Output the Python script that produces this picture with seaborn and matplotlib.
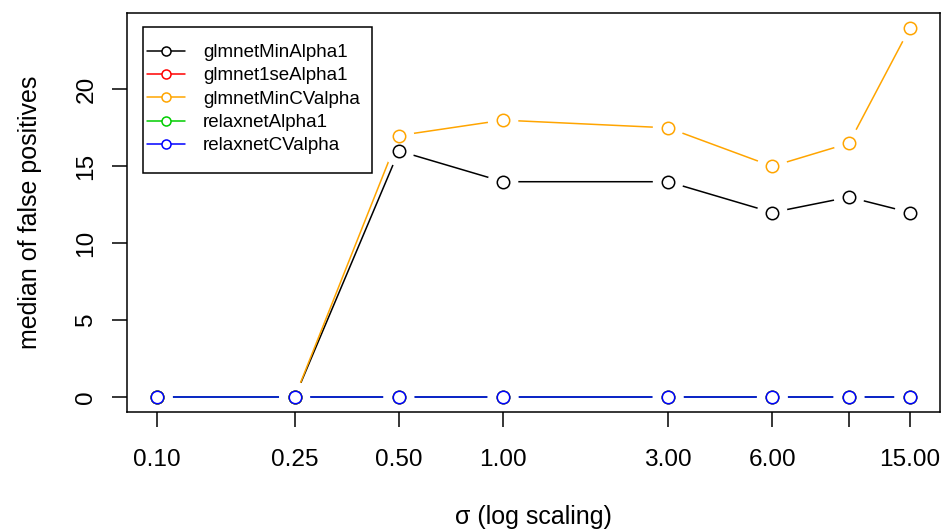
import matplotlib
matplotlib.use("Agg")
import matplotlib.pyplot as plt
import seaborn as sns
import numpy as np
import pandas as pd
from matplotlib.lines import Line2D
from matplotlib.patches import Rectangle

sigma = [0.10, 0.25, 0.50, 1.00, 3.00, 6.00, 10.00, 15.00]
tick_labels = ["0.10", "0.25", "0.50", "1.00", "3.00", "6.00", "", "15.00"]
glmnetMinAlpha1 = [0, 0, 16, 14, 14, 12, 13, 12]
glmnet1seAlpha1 = [0, 0, 0, 0, 0, 0, 0, 0]
glmnetMinCValpha = [0, 0, 17, 18, 17.5, 15, 16.5, 24]
relaxnetAlpha1 = [0, 0, 0, 0, 0, 0, 0, 0]
relaxnetCValpha = [0, 0, 0, 0, 0, 0, 0, 0]

series = ["glmnetMinAlpha1", "glmnet1seAlpha1", "glmnetMinCValpha",
          "relaxnetAlpha1", "relaxnetCValpha"]
values = [glmnetMinAlpha1, glmnet1seAlpha1, glmnetMinCValpha,
          relaxnetAlpha1, relaxnetCValpha]
colors = ["black", "#ff0000", "#ffa500", "#00cd00", "#0000ff"]

df = pd.DataFrame({
    "sigma": np.tile(sigma, len(series)),
    "value": np.concatenate(values),
    "series": np.repeat(series, len(sigma)),
})

sns.set_style("white")
plt.rcParams["font.family"] = ["Liberation Sans", "DejaVu Sans"]
plt.rcParams["text.color"] = "black"
plt.rcParams["axes.labelcolor"] = "black"
plt.rcParams["xtick.color"] = "black"
plt.rcParams["ytick.color"] = "black"

W, H = 947, 529
fig = plt.figure(figsize=(W / 100, H / 100), dpi=100)
L, R, T, B = 127, 940, 13, 412
ax = fig.add_axes([L / W, 1 - B / H, (R - L) / W, (B - T) / H])

lw = 1.1
for name, col in zip(series, colors):
    sub = df[df["series"] == name]
    sns.lineplot(data=sub, x="sigma", y="value", ax=ax, color=col, lw=lw,
                 legend=False, estimator=None, sort=False, zorder=2)
for name, col in zip(series, colors):
    sub = df[df["series"] == name]
    # white halo -> gap between line and point (R type = "b")
    sns.scatterplot(data=sub, x="sigma", y="value", ax=ax, color="white",
                    edgecolor="none", s=485, legend=False, zorder=3)
for name, col in zip(series, colors):
    sub = df[df["series"] == name]
    sns.scatterplot(data=sub, x="sigma", y="value", ax=ax, color="white",
                    edgecolor=col, linewidth=lw, s=80, legend=False, zorder=4)

ax.set_xscale("log")
ax.set_xlim(10 ** -1.0870, 10 ** 1.2631)
ax.set_ylim(-0.96, 24.96)
ax.set_xticks(sigma)
ax.set_xticklabels(tick_labels)
ax.xaxis.set_minor_locator(matplotlib.ticker.NullLocator())
ax.set_yticks([0, 5, 10, 15, 20])
ax.set_yticklabels(["0", "5", "10", "15", "20"], rotation=90, va="center")
ax.tick_params(axis="both", direction="out", length=10.8, width=lw,
               labelsize=17.6, color="black", labelcolor="black",
               bottom=True, left=True)
ax.tick_params(axis="x", pad=15.5)
ax.tick_params(axis="y", pad=10.5)
for s in ax.spines.values():
    s.set_color("black")
    s.set_linewidth(lw)
    s.set_zorder(10)

ax.set_xlabel("σ (log scaling)", fontsize=18, va="baseline", color="black")
ax.xaxis.set_label_coords(0.5, (B - 524) / (B - T))
ax.set_ylabel("median of false positives", fontsize=18, va="baseline",
              color="black")
ax.yaxis.set_label_coords((37 - L) / (R - L), 0.5)

# legend frame
ax.add_patch(Rectangle(((143 - L) / (R - L), (B - 173) / (B - T)),
                       229 / (R - L), 146 / (B - T), transform=ax.transAxes,
                       facecolor="white", edgecolor="black", lw=lw, zorder=5,
                       clip_on=False))
handles = [Line2D([0], [0], color=c, lw=lw, marker="o", markersize=6.5,
                  markerfacecolor="white", markeredgecolor=c, markeredgewidth=lw)
           for c in colors]
leg = ax.legend(handles, series, loc="upper left",
                bbox_to_anchor=((147 - L) / (R - L), (B - 44) / (B - T)),
                fontsize=13.5, frameon=False, borderpad=0, borderaxespad=0,
                handlelength=2.03, labelspacing=0.33, handletextpad=0.96)
for t in leg.get_texts():
    t.set_color("black")
leg.set_zorder(6)

fig.savefig("out.png", dpi=100)
